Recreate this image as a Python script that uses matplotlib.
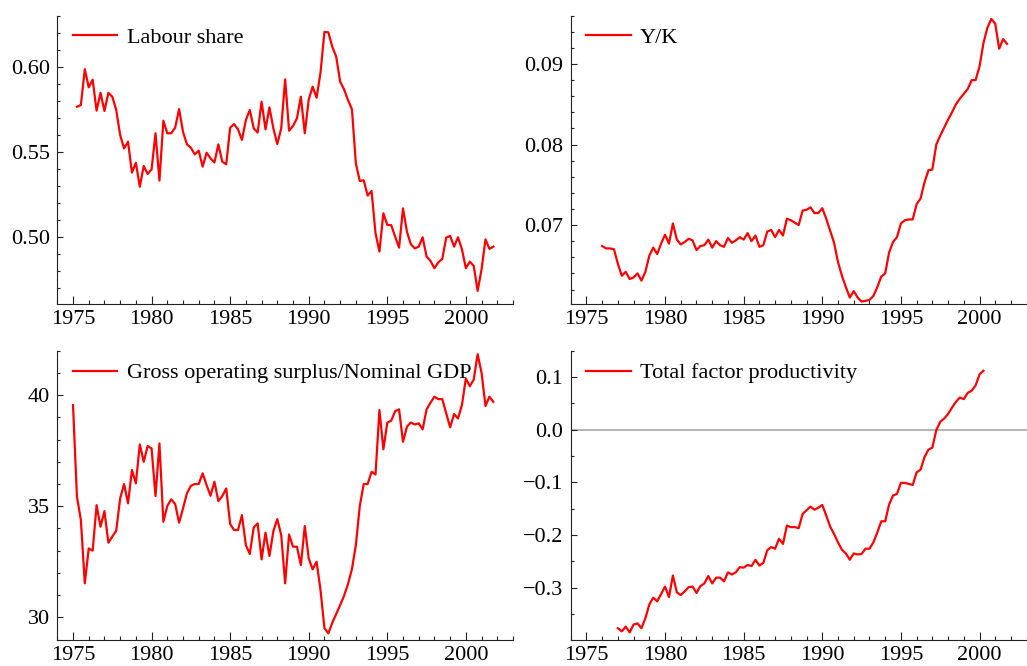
import numpy as np
import matplotlib
matplotlib.use("Agg")
import matplotlib.pyplot as plt
from matplotlib.ticker import MultipleLocator, FuncFormatter

plt.rcParams['font.family'] = ['Liberation Serif', 'DejaVu Serif']
plt.rcParams['font.size'] = 16

# ---------------- data (quarterly) ----------------
labour_start = 1975.25
labour_share = [
    0.5765, 0.5775, 0.5986, 0.5879, 0.5924, 0.5742, 0.5847, 0.5740, 0.5847, 0.5824,
    0.5746, 0.5599, 0.5520, 0.5560, 0.5378, 0.5436, 0.5295, 0.5417, 0.5370, 0.5397,
    0.5609, 0.5331, 0.5683, 0.5609, 0.5609, 0.5642, 0.5751, 0.5618, 0.5544, 0.5524,
    0.5485, 0.5507, 0.5413, 0.5495, 0.5462, 0.5438, 0.5544, 0.5442, 0.5427, 0.5642,
    0.5663, 0.5632, 0.5570, 0.5687, 0.5746, 0.5638, 0.5613, 0.5795, 0.5632, 0.5761,
    0.5638, 0.5546, 0.5638, 0.5926, 0.5624, 0.5652, 0.5697, 0.5824, 0.5609, 0.5808,
    0.5883, 0.5818, 0.5965, 0.6205, 0.6202, 0.6117, 0.6059, 0.5912, 0.5867, 0.5804,
    0.5750, 0.5432, 0.5329, 0.5333, 0.5243, 0.5270, 0.5022, 0.4914, 0.5139, 0.5071,
    0.5069, 0.5002, 0.4937, 0.5168, 0.5031, 0.4957, 0.4933, 0.4943, 0.4998, 0.4885,
    0.4859, 0.4816, 0.4851, 0.4871, 0.4996, 0.5006, 0.4943, 0.4998, 0.4928, 0.4816,
    0.4855, 0.4830, 0.4683, 0.4810, 0.4986, 0.4930, 0.4943,
]

yk_start = 1976.0
y_over_k = [
    0.0674, 0.0671, 0.0671, 0.0670, 0.0652, 0.0637, 0.0642, 0.0633, 0.0635, 0.0640,
    0.0631, 0.0642, 0.0662, 0.0672, 0.0664, 0.0677, 0.0688, 0.0677, 0.0702, 0.0682,
    0.0676, 0.0679, 0.0683, 0.0681, 0.0669, 0.0674, 0.0675, 0.0682, 0.0672, 0.0680,
    0.0675, 0.0673, 0.0684, 0.0678, 0.0681, 0.0685, 0.0682, 0.0690, 0.0680, 0.0687,
    0.0673, 0.0675, 0.0692, 0.0694, 0.0685, 0.0694, 0.0687, 0.0708, 0.0706, 0.0703,
    0.0700, 0.0718, 0.0719, 0.0722, 0.0715, 0.0715, 0.0721, 0.0708, 0.0693, 0.0678,
    0.0654, 0.0637, 0.0623, 0.0610, 0.0618, 0.0610, 0.0605, 0.0606, 0.0607, 0.0612,
    0.0623, 0.0636, 0.0640, 0.0666, 0.0679, 0.0685, 0.0702, 0.0706, 0.0707, 0.0707,
    0.0726, 0.0733, 0.0753, 0.0768, 0.0769, 0.0800, 0.0811, 0.0821, 0.0831, 0.0840,
    0.0850, 0.0857, 0.0863, 0.0869, 0.0880, 0.0880, 0.0897, 0.0926, 0.0945, 0.0956,
    0.0950, 0.0919, 0.0931, 0.0925,
]

gos_start = 1975.0
gos_gdp = [
    39.55, 35.43, 34.38, 31.53, 33.10, 33.00, 35.05, 34.08, 34.78, 33.36,
    33.63, 33.90, 35.35, 36.00, 35.13, 36.63, 36.03, 37.78, 37.00, 37.71,
    37.60, 35.46, 37.83, 34.30, 35.01, 35.31, 35.10, 34.26, 34.90, 35.58,
    35.92, 36.00, 36.00, 36.48, 35.95, 35.47, 36.10, 35.23, 35.46, 35.80,
    34.20, 33.93, 33.93, 34.60, 33.25, 32.85, 34.05, 34.23, 32.61, 33.81,
    32.76, 33.88, 34.42, 33.70, 31.53, 33.73, 33.18, 33.18, 32.35, 34.11,
    32.65, 32.16, 32.50, 31.23, 29.51, 29.28, 29.76, 30.15, 30.55, 30.97,
    31.50, 32.17, 33.25, 35.01, 36.00, 36.00, 36.55, 36.43, 39.33, 37.56,
    38.76, 38.85, 39.28, 39.36, 37.90, 38.58, 38.77, 38.68, 38.73, 38.46,
    39.36, 39.66, 39.93, 39.82, 39.82, 39.18, 38.55, 39.15, 38.95, 39.55,
    40.75, 40.40, 40.70, 41.84, 41.00, 39.51, 39.93, 39.70,
]

tfp_start = 1977.0
tfp = [
    -0.377, -0.383, -0.374, -0.385, -0.370, -0.368, -0.377, -0.358, -0.332, -0.319,
    -0.326, -0.312, -0.298, -0.318, -0.277, -0.309, -0.314, -0.307, -0.299, -0.298,
    -0.310, -0.297, -0.292, -0.278, -0.292, -0.281, -0.281, -0.288, -0.271, -0.275,
    -0.271, -0.261, -0.262, -0.257, -0.259, -0.247, -0.258, -0.253, -0.229, -0.223,
    -0.226, -0.207, -0.217, -0.182, -0.185, -0.185, -0.187, -0.160, -0.153, -0.146,
    -0.152, -0.148, -0.143, -0.163, -0.184, -0.198, -0.214, -0.228, -0.235, -0.247,
    -0.235, -0.237, -0.236, -0.226, -0.226, -0.214, -0.195, -0.174, -0.174, -0.142,
    -0.125, -0.122, -0.101, -0.101, -0.103, -0.105, -0.081, -0.076, -0.052, -0.038,
    -0.034, -0.001, 0.015, 0.021, 0.030, 0.042, 0.053, 0.061, 0.058, 0.070,
    0.074, 0.084, 0.105, 0.112,
]

labels = ["Labour share", "Y/K", "Gross operating surplus/Nominal GDP",
          "Total factor productivity"]
x_ticks = [1975, 1980, 1985, 1990, 1995, 2000]

def qx(start, vals):
    return start + 0.25 * np.arange(len(vals))

W, H = 1027, 666
fig = plt.figure(figsize=(W / 100, H / 100), dpi=100)

def px_axes(l, r, t, b):
    return fig.add_axes([l / W, 1 - b / H, (r - l) / W, (b - t) / H])

axes = [
    px_axes(57.3, 513, 15.7, 304),
    px_axes(570.7, 1026.7, 15.7, 304),
    px_axes(57.3, 513, 350.7, 640),
    px_axes(570.7, 1026.7, 350.7, 640),
]

series = [
    (labour_start, labour_share, (0.4606, 0.63), 0.05, 0.01, "%.2f"),
    (yk_start, y_over_k, (0.0602, 0.0960), 0.01, 0.002, "%.2f"),
    (gos_start, gos_gdp, (28.98, 42.0), 5, 1, "%.0f"),
    (tfp_start, tfp, (-0.3994, 0.15), 0.1, 0.05, "%.1f"),
]

for i, (ax, (st, vals, ylim, maj, mn, fmt)) in enumerate(zip(axes, series)):
    if i == 3:
        ax.axhline(0, color='#b4b4b4', lw=1.4, zorder=1)
    ax.plot(qx(st, vals), vals, color='#ff0000', lw=1.6, label=labels[i], zorder=3)
    ax.set_xlim(1974, 2003)
    ax.set_ylim(*ylim)
    ax.set_xticks(x_ticks)
    ax.xaxis.set_minor_locator(MultipleLocator(1))
    ax.yaxis.set_major_locator(MultipleLocator(maj))
    ax.yaxis.set_minor_locator(MultipleLocator(mn))
    ax.yaxis.set_major_formatter(
        FuncFormatter(lambda v, p, f=fmt: (f % (0.0 if abs(v) < 1e-9 else v)).replace('-', '\u2212')))
    for s in ['top', 'right']:
        ax.spines[s].set_visible(False)
    for s in ['left', 'bottom']:
        ax.spines[s].set_linewidth(0.8)
        ax.spines[s].set_color('#222222')
    ax.tick_params(axis='x', which='major', direction='in', length=6, width=0.8,
                   color='#222222', labelsize=16, pad=4.5)
    ax.tick_params(axis='x', which='minor', direction='in', length=3, width=0.8,
                   color='#222222')
    ax.tick_params(axis='y', which='major', direction='in', length=4.5, width=0.8,
                   color='#222222', labelsize=16, pad=5.5)
    ax.tick_params(axis='y', which='minor', direction='in', length=2.5, width=0.8,
                   color='#222222')
    ax.patch.set_alpha(0)
    ax.legend(loc='upper left', frameon=False, fontsize=16, handlelength=2.0,
              handletextpad=0.42, borderpad=0, borderaxespad=0,
              bbox_to_anchor=(15.7 / 455.7, 1 - 12.0 / 288.3))

fig.savefig("out.png", dpi=100)
